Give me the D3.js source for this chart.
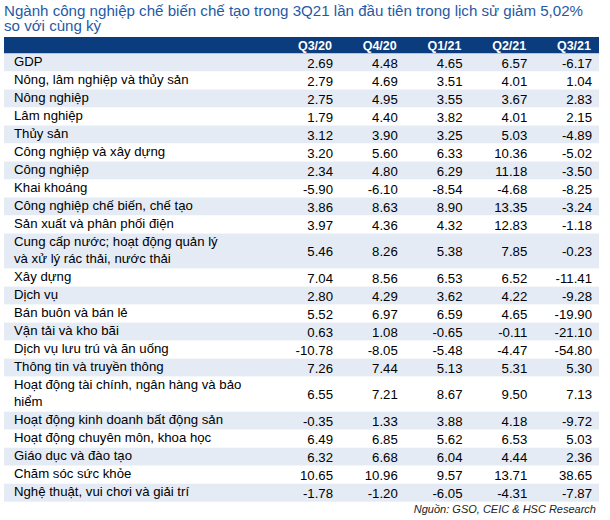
<!DOCTYPE html>
<html><head><meta charset="utf-8">
<script src="https://cdn.jsdelivr.net/npm/d3@7"></script>
<style>body{margin:0;background:#fff}svg{display:block}</style>
</head><body><svg id="c" width="610" height="520"></svg>
<script>
const title = ["Ngành công nghiệp chế biến chế tạo trong 3Q21 lần đầu tiên trong lịch sử giảm 5,02%", "so với cùng kỳ"];
const columns = ["Q3/20", "Q4/20", "Q1/21", "Q2/21", "Q3/21"];
const categories = [
  ["GDP"],
  ["Nông, lâm nghiệp và thủy sản"],
  ["Nông nghiệp"],
  ["Lâm nghiệp"],
  ["Thủy sản"],
  ["Công nghiệp và xây dựng"],
  ["Công nghiệp"],
  ["Khai khoáng"],
  ["Công nghiệp chế biến, chế tạo"],
  ["Sản xuất và phân phối điện"],
  ["Cung cấp nước; hoạt động quản lý", "và xử lý rác thải, nước thải"],
  ["Xây dựng"],
  ["Dịch vụ"],
  ["Bán buôn và bán lẻ"],
  ["Vận tải và kho bãi"],
  ["Dịch vụ lưu trú và ăn uống"],
  ["Thông tin và truyền thông"],
  ["Hoạt động tài chính, ngân hàng và bảo", "hiểm"],
  ["Hoạt động kinh doanh bất động sản"],
  ["Hoạt động chuyên môn, khoa học"],
  ["Giáo dục và đào tạo"],
  ["Chăm sóc sức khỏe"],
  ["Nghệ thuật, vui chơi và giải trí"]
];
const q3_20 = [2.69, 2.79, 2.75, 1.79, 3.12, 3.20, 2.34, -5.90, 3.86, 3.97, 5.46, 7.04, 2.80, 5.52, 0.63, -10.78, 7.26, 6.55, -0.35, 6.49, 6.32, 10.65, -1.78];
const q4_20 = [4.48, 4.69, 4.95, 4.40, 3.90, 5.60, 4.80, -6.10, 8.63, 4.36, 8.26, 8.56, 4.29, 6.97, 1.08, -8.05, 7.44, 7.21, 1.33, 6.85, 6.68, 10.96, -1.20];
const q1_21 = [4.65, 3.51, 3.55, 3.82, 3.25, 6.33, 6.29, -8.54, 8.90, 4.32, 5.38, 6.53, 3.62, 6.59, -0.65, -5.48, 5.13, 8.67, 3.88, 5.62, 6.04, 9.57, -6.05];
const q2_21 = [6.57, 4.01, 3.67, 4.01, 5.03, 10.36, 11.18, -4.68, 13.35, 12.83, 7.85, 6.52, 4.22, 4.65, -0.11, -4.47, 5.31, 9.50, 4.18, 6.53, 4.44, 13.71, -4.31];
const q3_21 = [-6.17, 1.04, 2.83, 2.15, -4.89, -5.02, -3.50, -8.25, -3.24, -1.18, -0.23, -11.41, -9.28, -19.90, -21.10, -54.80, 5.30, 7.13, -9.72, 5.03, 2.36, 38.65, -7.87];
const source = "Nguồn: GSO, CEIC & HSC Research";

const series = [q3_20, q4_20, q1_21, q2_21, q3_21];
const svg = d3.select("#c");
const font = "'Liberation Sans', Arial, sans-serif";

const tableLeft = 4, tableRight = 599;
const headerTop = 37, headerBottom = 53.5;
const unitH = 18.0;

// row positions via cumulative units
const units = categories.map(c => c.length === 2 ? 1.95 : 1);
const starts = [];
let acc = 0;
units.forEach(u => { starts.push(acc); acc += u; });
const y = d3.scaleLinear().domain([0, acc]).range([headerBottom, headerBottom + acc * unitH]);
const x = d3.scaleLinear().domain([0, columns.length - 1]).range([333, 592]);

// title
svg.append("g").selectAll("text").data(title).join("text")
  .attr("x", 4).attr("y", (d, i) => 16 + i * 15.3)
  .attr("font-family", font).attr("font-size", 15.1).attr("fill", "#1f5aa6")
  .text(d => d);

// header
svg.append("rect").attr("x", tableLeft).attr("y", headerTop)
  .attr("width", tableRight - tableLeft).attr("height", headerBottom - headerTop)
  .attr("fill", "#0b3c7d");
svg.append("g").selectAll("text").data(columns).join("text")
  .attr("x", (d, i) => x(i) - 1).attr("y", headerBottom - 3.4)
  .attr("text-anchor", "end").attr("font-family", font).attr("font-size", 12.5)
  .attr("font-weight", "bold").attr("fill", "#ffffff").text(d => d);

// rows
const rows = svg.append("g").selectAll("g").data(categories).join("g");
rows.append("rect")
  .attr("x", tableLeft).attr("width", tableRight - tableLeft)
  .attr("y", (d, i) => y(starts[i]))
  .attr("height", (d, i) => y(starts[i] + units[i]) - y(starts[i]))
  .attr("fill", (d, i) => i % 2 === 0 ? "#e5ebf5" : "#ffffff");

rows.each(function(d, i) {
  const g = d3.select(this);
  const top = y(starts[i]), bot = y(starts[i] + units[i]);
  const mid = (top + bot) / 2;
  const lineH = 16.5;
  const n = d.length;
  d.forEach((line, k) => {
    g.append("text").attr("x", 14)
      .attr("y", mid + (k - (n - 1) / 2) * lineH + 3.5)
      .attr("font-family", font).attr("font-size", 13.2).attr("fill", "#000")
      .text(line);
  });
  series.forEach((s, j) => {
    g.append("text").attr("x", x(j)).attr("y", mid + 5.2)
      .attr("text-anchor", "end").attr("font-family", font).attr("font-size", 13.2)
      .attr("fill", "#000").text(d3.format(".2f")(s[i]).replace("−", "-"));
  });
});

// source
svg.append("text").attr("x", 596).attr("y", 513)
  .attr("text-anchor", "end").attr("font-family", font).attr("font-size", 11)
  .attr("font-style", "italic").attr("fill", "#222").text(source);
</script></body></html>
